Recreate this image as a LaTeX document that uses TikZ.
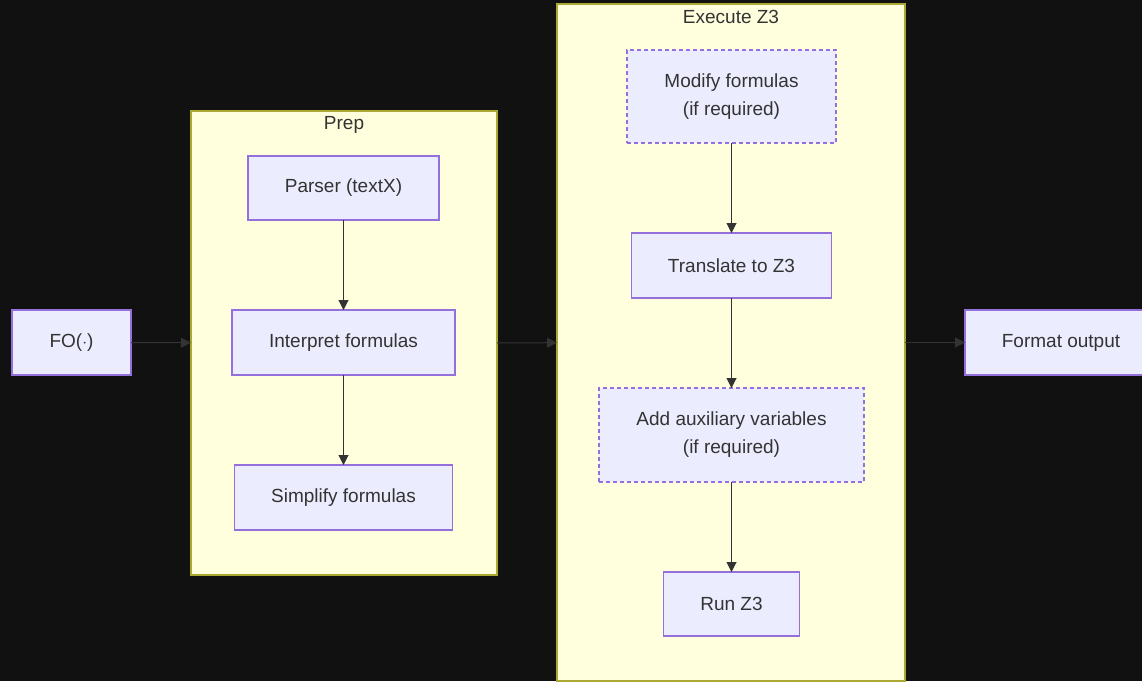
\documentclass[tikz,border=0pt]{standalone}
\usepackage{fontspec}
\setmainfont{Liberation Sans}
\usetikzlibrary{arrows.meta}
\definecolor{bgdark}{HTML}{111111}
\definecolor{clusterfill}{HTML}{FFFFDE}
\definecolor{clusterline}{HTML}{AAAA33}
\definecolor{boxfill}{HTML}{ECECFF}
\definecolor{boxline}{HTML}{9370DB}
\definecolor{ink}{HTML}{333333}

\begin{document}
\begin{tikzpicture}[x=1pt,y=-1pt,
  every node/.style={font=\fontsize{19}{28}\selectfont, text=ink, inner sep=0pt, outer sep=0pt, align=center},
  box/.style={fill=boxfill, draw=boxline, line width=1.2pt},
  optbox/.style={box, dash pattern=on 4pt off 3pt},
  cluster/.style={fill=clusterfill, draw=clusterline, line width=1.2pt},
  flow/.style={draw=ink, line width=1pt, -{Triangle[length=10pt,width=10pt]}}]
\fill[bgdark] (0,0) rectangle (1142,681);
\useasboundingbox (0,0) rectangle (1142,681);

% clusters
\node[cluster, minimum width=306pt, minimum height=464pt] (prep) at (344,343) {};
\node (preplabel) at (344,125) {Prep};
\node[cluster, minimum width=348pt, minimum height=677pt] (exec) at (731,342.5) {};
\node (execlabel) at (731,17) {Execute Z3};

% outer nodes
\node[box, minimum width=119pt, minimum height=65pt] (fo) at (71.5,342.5) {FO($\cdot$)};
\node[box, minimum width=192pt, minimum height=65pt] (format) at (1061,342.5) {Format output};

% prep
\node[box, minimum width=191pt, minimum height=64pt] (parser) at (343.5,188) {Parser (textX)};
\node[box, minimum width=223pt, minimum height=65pt] (interp) at (343.5,342.5) {Interpret formulas};
\node[box, minimum width=218pt, minimum height=65pt] (simplify) at (343.5,497.5) {Simplify formulas};

% execute z3
\node[optbox, minimum width=209pt, minimum height=93pt] (modify) at (731.5,96.5) {Modify formulas\\(if required)};
\node[box, minimum width=200pt, minimum height=65pt] (translate) at (731.5,265.5) {Translate to Z3};
\node[optbox, minimum width=265pt, minimum height=94pt] (aux) at (731.5,435) {Add auxiliary variables\\(if required)};
\node[box, minimum width=136pt, minimum height=64pt] (run) at (731.5,604) {Run Z3};

\draw[flow] (fo) -- (prep);
\draw[flow] (prep) -- (exec);
\draw[flow] (exec) -- (format);
\draw[flow] (parser) -- (interp);
\draw[flow] (interp) -- (simplify);
\draw[flow] (modify) -- (translate);
\draw[flow] (translate) -- (aux);
\draw[flow] (aux) -- (run);
\end{tikzpicture}
\end{document}
